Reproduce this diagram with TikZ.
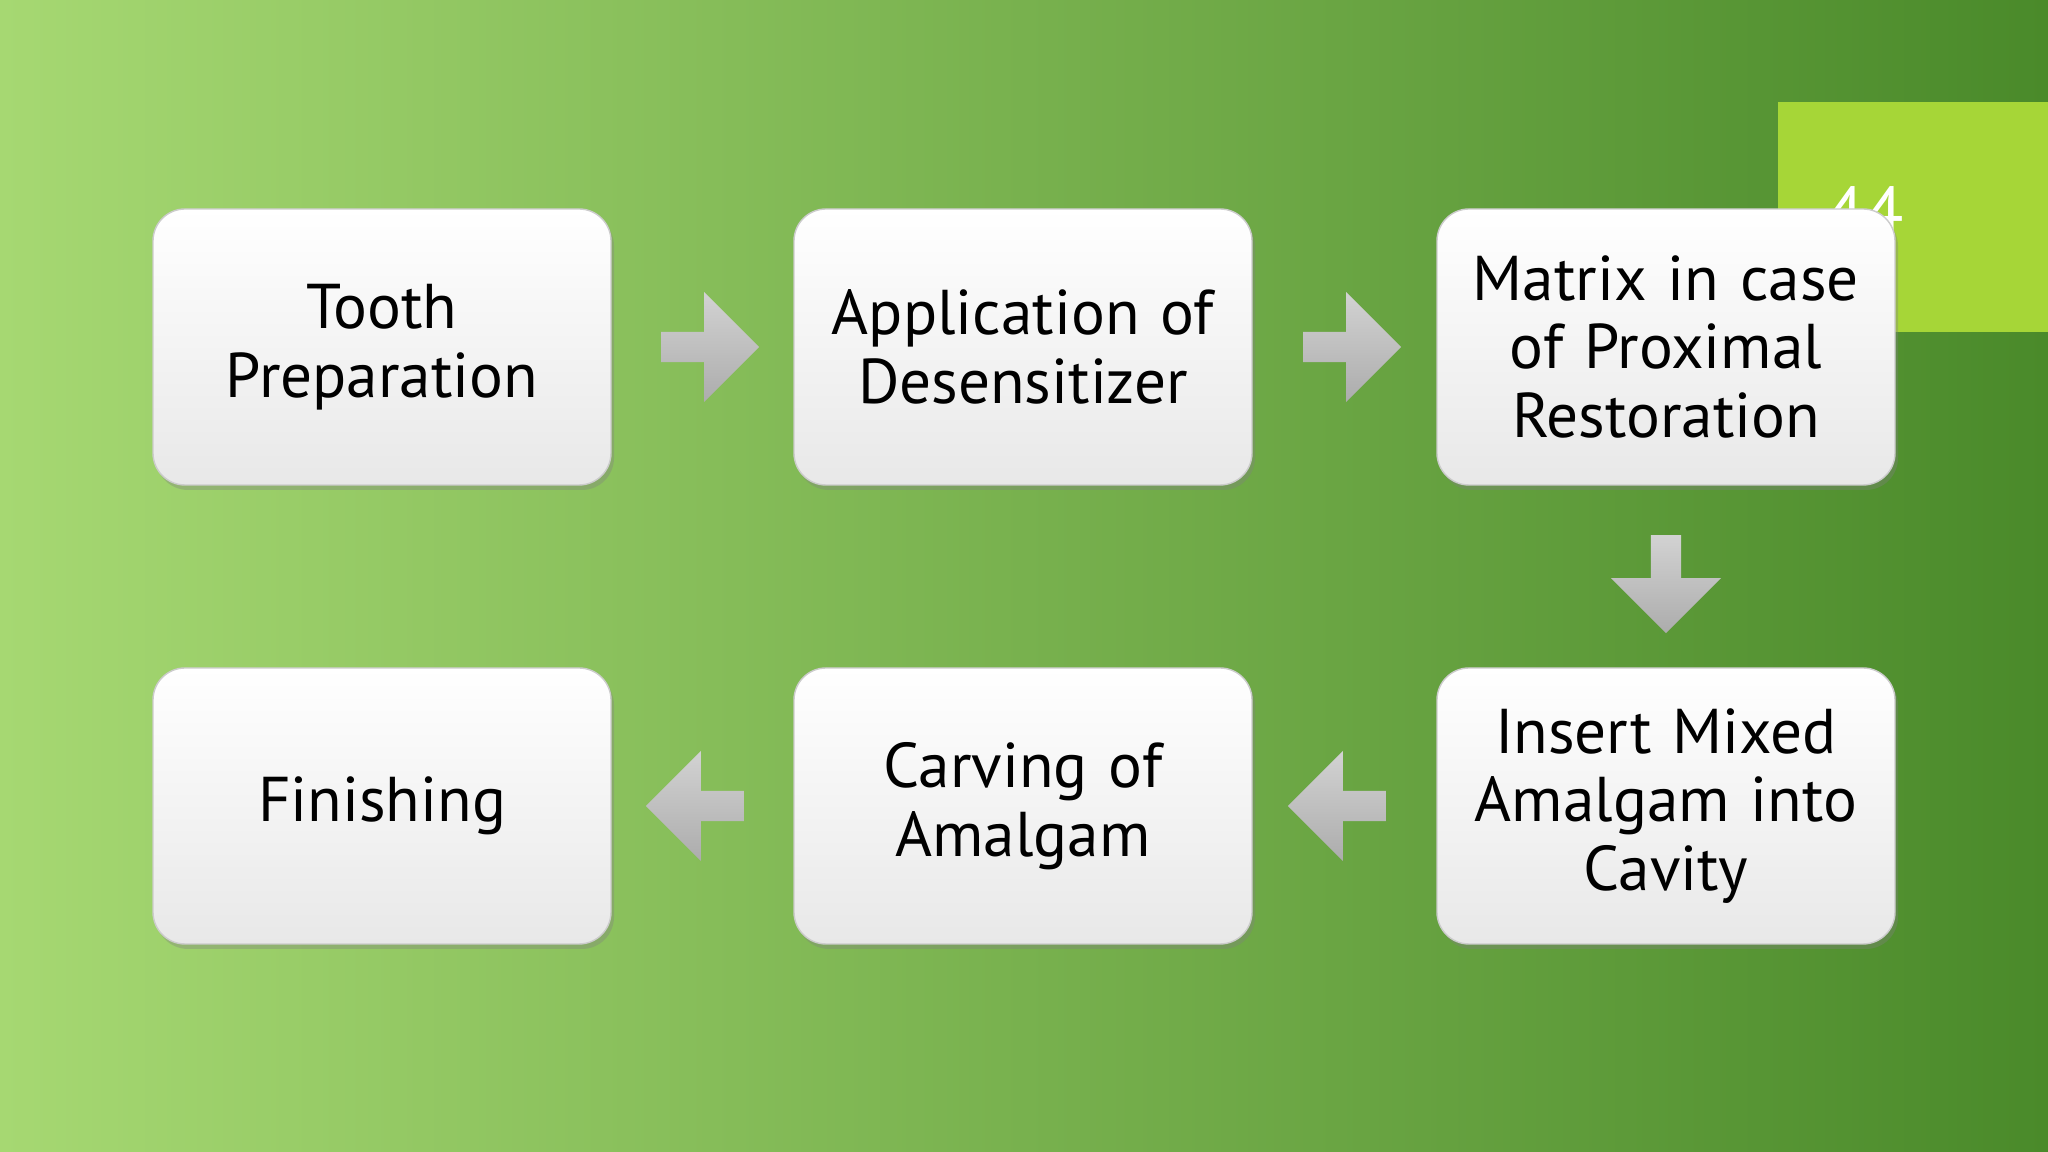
\documentclass[tikz,border=0pt]{standalone}
\usepackage{fontspec}
\setmainfont{PT Sans}
\usetikzlibrary{shapes.arrows, shadows, positioning, calc}
\definecolor{bgLight}{HTML}{A6D872}
\definecolor{bgDark}{HTML}{4A8A2A}
\definecolor{lime}{HTML}{A6D637}
\tikzstyle{stage} = [rectangle, rounded corners=0.32cm, minimum width=4.58cm, minimum height=2.76cm, text width=4.3cm, align=center, top color=white, bottom color=gray!18, draw=gray!40, drop shadow={opacity=0.35, shadow xshift=0.03cm, shadow yshift=-0.05cm}, font=\fontsize{18}{19.5}\selectfont]
\tikzstyle{flow} = [single arrow, single arrow head extend=0.28cm, minimum width=1.1cm, minimum height=0.98cm, inner sep=0.1cm, top color=gray!35, bottom color=gray!65, draw=none]

\begin{document}
\begin{tikzpicture}
            \useasboundingbox (0,0) rectangle (20.48,11.52);
            \shade[shading=axis, shading angle=135, left color=bgLight, right color=bgDark] (0,0) rectangle (20.48,11.52);
            \fill[lime] (17.78,8.20) rectangle (20.48,10.50);
            \node[text=white, font=\fontsize{20}{20}\selectfont] (slideNo) at (18.65,9.40) {44};

            \node[stage] (tooth) at (3.82,8.05) {Tooth\\Preparation};
            \node[stage] (desens) at (10.23,8.05) {Application of\\Desensitizer};
            \node[stage] (matrix) at (16.66,8.05) {Matrix in case\\of Proximal\\Restoration};
            \node[stage] (insert) at (16.66,3.46) {Insert Mixed\\Amalgam into\\Cavity};
            \node[stage] (carving) at (10.23,3.46) {Carving of\\Amalgam};
            \node[stage] (finish) at (3.82,3.46) {Finishing};

            \node[flow] (a1) at ($(tooth.east)!0.5!(desens.west)$) {};
            \node[flow] (a2) at ($(desens.east)!0.5!(matrix.west)$) {};
            \node[flow, rotate=-90] (a3) at ($(matrix.south)!0.5!(insert.north)$) {};
            \node[flow, rotate=180] (a4) at ($(insert.west)!0.5!(carving.east)$) {};
            \node[flow, rotate=180] (a5) at ($(carving.west)!0.5!(finish.east)$) {};
        \end{tikzpicture}
\end{document}
